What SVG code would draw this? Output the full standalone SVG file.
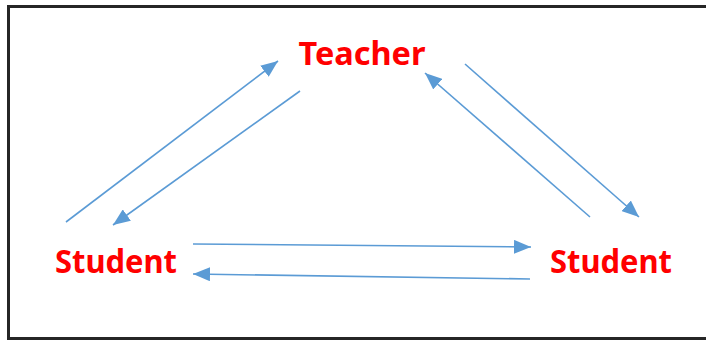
<svg xmlns="http://www.w3.org/2000/svg" width="706" height="341" viewBox="0 0 706 341">
<defs>
<style>
.lbl{font-family:"Noto Sans","Open Sans",sans-serif;font-weight:bold;font-size:33px;fill:#FF0000}
.edge{stroke:#5B9BD5;stroke-width:1.6;fill:none;marker-end:url(#ah)}
</style>
<marker id="ah" markerUnits="userSpaceOnUse" markerWidth="18" markerHeight="14" refX="17" refY="7" orient="auto" viewBox="0 0 18 14">
<path d="M0,0 L17,7 L0,14 Z" fill="#5B9BD5"/>
</marker>
</defs>
<rect x="0" y="0" width="706" height="341" fill="#fff"/>
<rect x="8.5" y="6.5" width="700" height="332" fill="none" stroke="#262626" stroke-width="3"/>
<g id="connectors">
<line class="edge" x1="66" y1="222" x2="278" y2="61"/>
<line class="edge" x1="300" y1="91" x2="113" y2="225"/>
<line class="edge" x1="465" y1="64" x2="639" y2="217"/>
<line class="edge" x1="590" y1="217" x2="425" y2="73"/>
<line class="edge" x1="193" y1="244" x2="531" y2="247"/>
<line class="edge" x1="530" y1="279" x2="193" y2="274"/>
</g>
<g id="teacher"><text class="lbl" x="362" y="65" text-anchor="middle" textLength="127" lengthAdjust="spacingAndGlyphs">Teacher</text></g>
<g id="student-left"><text class="lbl" x="116" y="273" text-anchor="middle" textLength="122" lengthAdjust="spacingAndGlyphs">Student</text></g>
<g id="student-right"><text class="lbl" x="611" y="273" text-anchor="middle" textLength="122" lengthAdjust="spacingAndGlyphs">Student</text></g>
</svg>
